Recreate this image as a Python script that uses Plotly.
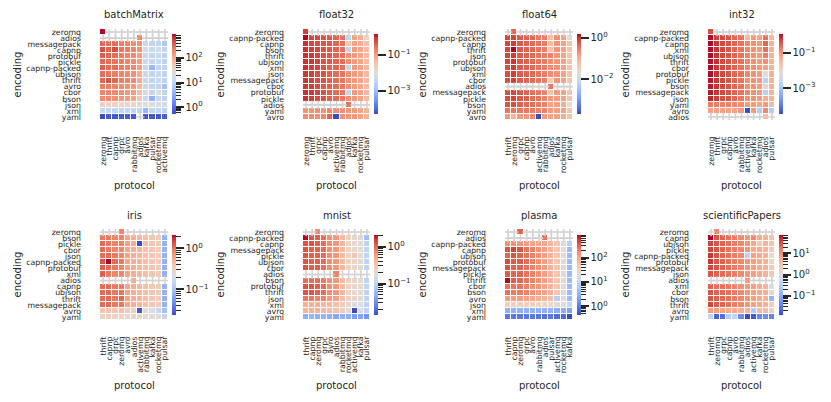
import math
import plotly.graph_objects as go

N = None  # no measurement for this encoding / protocol pair

# ---- batchMatrix ----
BATCH_ENC = ['zeromq', 'adios', 'messagepack', 'capnp', 'protobuf', 'pickle', 'capnp-packed',
             'ubjson', 'thrift', 'avro', 'cbor', 'bson', 'json', 'xml', 'yaml']
BATCH_PROTO = ['zeromq', 'thrift', 'capnp', 'grpc', 'avro', 'rabbitmq', 'adios', 'kafka',
               'pulsar', 'rocketmq', 'activemq']
BATCH_LOG = [
    [2.95, N, N, N, N, N, N, N, N, N, N],
    [N, N, N, N, N, N, 2.3, N, N, N, N],
    [2.5, 2.45, 2.45, 2.35, 2.3, 2.25, 2.2, 1.1, 1.0, 1.0, 0.8],
    [2.65, 2.5, 2.65, 2.4, 2.35, 2.3, 2.2, 1.2, 1.1, 1.15, 1.0],
    [2.55, 2.5, 2.45, 2.35, 2.3, 2.25, 2.1, 1.1, 1.0, 1.1, 0.95],
    [2.5, 2.45, 2.4, 2.35, 2.3, 2.25, 2.1, 1.1, 1.05, 1.1, 1.0],
    [2.55, 2.45, 2.45, 2.35, 2.3, 2.25, 2.1, 1.1, 0.6, 1.0, 1.0],
    [2.45, 2.4, 2.35, 2.3, 2.25, 2.2, 2.0, 1.1, 1.0, 1.1, 1.0],
    [2.5, 2.6, 2.5, 2.35, 2.3, 2.25, 2.0, 1.1, 1.0, 1.1, 0.95],
    [2.35, 2.35, 2.3, 2.25, 2.2, 2.15, 1.9, 1.1, 1.0, 1.0, 0.7],
    [2.3, 2.3, 2.25, 2.2, 2.15, 2.1, 1.8, 1.2, 1.05, 1.3, 1.0],
    [2.25, 2.25, 2.2, 2.15, 2.1, 2.05, 1.7, 1.1, 0.55, 1.1, 1.0],
    [1.55, 1.55, 1.55, 1.5, 1.5, 1.5, 1.45, 1.3, 1.3, 1.3, 1.2],
    [1.05, 1.05, 1.0, 1.0, 1.0, 1.0, 1.0, 0.6, 1.0, 1.0, 0.95],
    [-0.3, -0.2, -0.2, -0.2, -0.15, -0.2, N, -0.2, -0.2, -0.2, -0.15],
]

# ---- float32 ----
F32_ENC = ['zeromq', 'capnp-packed', 'capnp', 'bson', 'thrift', 'ubjson', 'xml', 'json',
           'messagepack', 'cbor', 'protobuf', 'pickle', 'adios', 'yaml', 'avro']
F32_PROTO = ['zeromq', 'thrift', 'grpc', 'capnp', 'avro', 'activemq', 'rabbitmq', 'adios',
             'kafka', 'rocketmq', 'pulsar']
F32_LOG = [
    [-0.2, N, N, N, N, N, N, N, N, N, N],
    [0.1, -0.25, -0.25, -0.35, -0.4, -0.5, -0.6, -2.5, -1.1, -1.2, -1.9],
    [-0.1, -0.25, -0.3, -0.35, -0.4, -0.5, -0.6, -1.6, -1.1, -1.2, -1.5],
    [-0.1, -0.2, -0.25, -0.35, -0.4, -0.5, -0.6, -2.5, -1.0, -1.1, -1.4],
    [-0.1, -0.15, -0.25, -0.35, -0.4, -0.5, -0.6, -0.9, -1.0, -1.1, -1.4],
    [-0.1, -0.15, -0.25, -0.35, -0.4, -0.5, -0.6, -0.9, -1.0, -1.1, -1.4],
    [-0.1, -0.2, -0.25, -0.35, -0.45, -0.5, -0.6, -2.5, -1.0, -1.1, -1.4],
    [-0.15, -0.2, -0.3, -0.35, -0.45, -0.55, -0.65, -0.9, -1.0, -1.1, -1.4],
    [-0.15, -0.2, -0.3, -0.35, -0.45, -0.55, -0.65, -0.9, -1.0, -1.1, -1.4],
    [-0.15, -0.2, -0.3, -0.4, -0.45, -0.55, -0.65, -0.9, -1.0, -1.1, -1.4],
    [-0.1, -0.15, -0.25, -0.35, -0.45, -0.55, -0.65, -2.5, -1.0, -1.1, -1.4],
    [-0.1, -0.2, -0.3, -0.35, -0.45, -0.55, -0.65, -0.9, -1.0, -1.1, -1.4],
    [N, N, N, N, N, N, N, -0.6, N, N, N],
    [-0.9, -0.9, -0.9, -0.9, -0.8, -0.9, -0.9, -1.0, -1.0, -1.1, -1.3],
    [-0.9, -0.9, -0.9, -0.8, -0.5, -4.3, -0.9, -1.0, -1.0, -1.1, -1.3],
]

# ---- float64 ----
F64_ENC = ['zeromq', 'capnp-packed', 'capnp', 'thrift', 'json', 'protobuf', 'ubjson', 'xml',
           'cbor', 'adios', 'messagepack', 'pickle', 'bson', 'yaml', 'avro']
F64_PROTO = ['thrift', 'zeromq', 'grpc', 'capnp', 'avro', 'activemq', 'rabbitmq', 'adios',
             'kafka', 'rocketmq', 'pulsar']
F64_LOG = [
    [N, -0.4, N, N, N, N, N, N, N, N, N],
    [-0.15, -0.15, -0.3, -0.35, -0.4, -0.5, -0.55, -1.2, -0.7, -0.9, -1.8],
    [-0.15, -0.1, -0.3, -0.35, -0.4, -0.5, -0.55, -1.2, -0.75, -0.9, -1.3],
    [-0.15, 0.15, -0.3, -0.35, -0.4, -0.5, -0.55, -1.3, -0.75, -0.9, -1.3],
    [-0.15, -0.1, -0.3, -0.35, -0.4, -0.5, -0.55, -0.6, -0.75, -0.9, -1.3],
    [-0.15, -0.05, -0.3, -0.35, -0.4, -0.5, -0.55, -0.7, -0.75, -0.9, -1.3],
    [-0.2, -0.1, -0.3, -0.35, -0.4, -0.5, -0.55, -0.7, -0.75, -0.9, -1.3],
    [-0.2, -0.1, -0.3, -0.35, -0.4, -0.5, -0.55, -0.7, -0.75, -0.9, -1.3],
    [-0.2, -0.1, -0.3, -0.35, -0.4, -0.5, -0.55, -1.4, -0.75, -0.9, -1.3],
    [N, N, N, N, N, N, N, -0.5, N, N, N],
    [-0.2, -0.15, -0.3, -0.35, -0.45, -0.5, -0.6, -1.3, -0.8, -0.9, -1.3],
    [-0.2, -0.15, -0.3, -0.35, -0.45, -0.5, -0.6, -0.8, -0.8, -0.9, -1.3],
    [-0.25, -0.2, -0.35, -0.4, -0.45, -0.55, -0.6, -0.9, -0.85, -1.0, -1.7],
    [-0.5, -0.5, -0.5, -0.5, -0.55, -0.6, -0.6, -0.8, -0.85, -0.9, -1.3],
    [-0.8, -1.1, -0.8, -0.8, -0.7, -3.7, -0.8, -0.9, -0.9, -1.0, -1.3],
]

# ---- int32 ----
I32_ENC = ['zeromq', 'capnp-packed', 'capnp', 'xml', 'ubjson', 'thrift', 'cbor', 'protobuf',
           'pickle', 'bson', 'messagepack', 'json', 'yaml', 'avro', 'adios']
I32_PROTO = ['zeromq', 'thrift', 'grpc', 'capnp', 'avro', 'rabbitmq', 'activemq', 'kafka',
             'rocketmq', 'adios', 'pulsar']
I32_LOG = [
    [-0.4, N, N, N, N, N, N, N, N, N, N],
    [0.0, -0.3, -0.35, -0.45, -0.6, -0.7, -1.5, -1.1, -1.2, -0.7, -1.5],
    [0.03, -0.2, -0.35, -0.45, -0.6, -0.7, -0.9, -1.0, -1.1, -0.6, -1.4],
    [0.0, -0.2, -0.35, -0.45, -0.6, -0.7, -0.9, -1.0, -1.1, -0.7, -1.4],
    [0.0, -0.2, -0.35, -0.45, -0.6, -0.7, -0.9, -1.0, -1.1, -0.8, -1.4],
    [0.0, -0.15, -0.35, -0.45, -0.6, -0.7, -0.9, -1.0, -1.1, -1.0, -1.4],
    [0.0, -0.2, -0.35, -0.45, -0.6, -0.7, -0.9, -1.0, -1.1, -1.2, -1.4],
    [0.0, -0.2, -0.35, -0.45, -0.6, -0.7, -0.9, -1.0, -1.1, -2.2, -1.4],
    [-0.05, -0.2, -0.35, -0.45, -0.6, -0.7, -1.0, -1.0, -1.1, -2.8, -1.4],
    [-0.05, -0.2, -0.35, -0.45, -0.6, -0.7, -1.0, -1.0, -1.1, -2.0, -1.4],
    [-0.05, -0.2, -0.35, -0.45, -0.6, -0.7, -0.9, -1.0, -1.1, -2.8, -1.4],
    [-0.1, -0.25, -0.4, -0.45, -0.6, -0.75, -1.0, -1.0, -1.1, -1.3, -1.4],
    [-0.8, -0.8, -0.85, -0.85, -0.9, -0.95, -1.1, -1.1, -1.2, -1.1, -1.5],
    [-1.2, -1.2, -1.2, -1.2, -1.2, -1.1, -4.5, -1.1, -2.9, -0.9, -2.9],
    [N, N, N, N, N, N, N, N, N, -1.6, N],
]

# ---- iris ----
IRIS_ENC = ['zeromq', 'bson', 'pickle', 'cbor', 'json', 'capnp-packed', 'protobuf', 'xml',
            'adios', 'capnp', 'ubjson', 'thrift', 'messagepack', 'avro', 'yaml']
IRIS_PROTO = ['thrift', 'capnp', 'grpc', 'zeromq', 'avro', 'adios', 'activemq', 'rabbitmq',
              'kafka', 'rocketmq', 'pulsar']
IRIS_LOG = [
    [N, N, N, -0.05, N, N, N, N, N, N, N],
    [0.0, 0.0, -0.05, -0.05, -0.2, -0.25, -0.3, -0.35, -0.4, -0.45, -1.1],
    [0.05, 0.0, -0.05, -0.05, -0.2, -0.25, -1.61, -0.35, -0.4, -0.45, -1.1],
    [0.05, 0.0, -0.05, -0.05, -0.2, -0.25, -0.3, -0.35, -0.4, -0.45, -1.1],
    [0.05, 0.05, 0.0, -0.05, -0.2, -0.25, -0.3, -0.35, -0.4, -0.45, -1.1],
    [0.15, 0.34, 0.05, 0.0, -0.2, -0.25, -0.3, -0.35, -0.4, -0.45, -1.1],
    [0.1, 0.05, 0.0, -0.05, -0.2, -0.25, -0.3, -0.35, -0.4, -0.45, -1.1],
    [0.1, 0.0, -0.05, -0.05, -0.2, -0.25, -0.3, -0.35, -0.4, -0.45, -1.1],
    [N, N, N, N, N, -0.25, N, N, N, N, N],
    [0.05, 0.05, 0.0, 0.0, -0.2, -0.25, -0.3, -0.35, -0.4, -0.45, -1.1],
    [0.05, 0.05, 0.0, 0.0, -0.2, -0.25, -0.3, -0.35, -0.4, -0.45, -1.1],
    [0.05, 0.05, 0.0, 0.05, -0.2, -0.25, -0.3, -0.35, -0.4, -0.45, -1.1],
    [0.05, 0.05, 0.0, 0.0, -0.2, -0.25, -0.3, -0.35, -0.4, -0.45, -1.1],
    [-0.4, -0.4, -0.4, -0.35, -0.45, -0.5, -1.55, -0.6, -0.6, -0.8, -1.0],
    [-0.5, -0.5, -0.5, -0.5, -0.55, -0.55, -0.55, -0.6, -0.6, -0.6, -0.8],
]

# ---- mnist ----
MNIST_ENC = ['zeromq', 'capnp-packed', 'capnp', 'messagepack', 'pickle', 'ubjson', 'cbor',
             'adios', 'bson', 'protobuf', 'thrift', 'json', 'xml', 'avro', 'yaml']
MNIST_PROTO = ['thrift', 'capnp', 'zeromq', 'grpc', 'avro', 'adios', 'rabbitmq', 'rocketmq',
               'activemq', 'kafka', 'pulsar']
MNIST_LOG = [
    [N, N, -0.15, N, N, N, N, N, N, N, N],
    [0.33, 0.1, 0.05, 0.0, -0.15, -0.2, -0.4, -0.6, -0.65, -0.7, -1.2],
    [0.1, 0.1, 0.05, 0.0, -0.15, -0.2, -0.4, -0.6, -0.65, -0.7, -1.0],
    [0.1, 0.05, 0.05, 0.0, -0.15, -0.2, -0.4, -0.6, -0.65, -0.7, -1.0],
    [0.1, 0.05, 0.05, 0.0, -0.15, -0.2, -0.4, -0.6, -0.5, -0.7, -1.0],
    [0.1, 0.05, 0.05, 0.0, -0.15, -0.2, -0.4, -0.6, -0.65, -0.7, -1.0],
    [0.1, 0.05, 0.05, 0.0, -0.15, -0.2, -0.4, -0.6, -0.65, -0.7, -1.0],
    [N, N, N, N, N, -0.1, N, N, N, N, N],
    [0.0, 0.0, 0.0, -0.05, -0.15, -0.2, -0.4, -0.6, -0.65, -0.7, -1.0],
    [0.1, 0.1, 0.05, 0.0, -0.15, -0.2, -0.4, -0.6, -0.65, -0.7, -1.0],
    [0.1, 0.1, 0.05, 0.0, -0.15, -0.2, -0.4, -0.6, -0.65, -0.7, -1.0],
    [-0.05, -0.05, -0.1, -0.1, -0.2, -0.25, -0.45, -0.6, -0.65, -0.7, -1.0],
    [-0.35, -0.35, -0.35, -0.4, -0.4, -0.45, -0.55, -0.7, -0.75, -0.8, -1.0],
    [-0.35, -0.35, -0.35, -0.4, -0.4, -0.45, -0.55, -0.7, -1.84, -0.8, -1.0],
    [-1.3, -1.25, -1.3, -1.25, -1.3, -1.35, -1.3, -1.3, -1.4, -1.35, -1.45],
]

# ---- plasma ----
PLASMA_ENC = ['zeromq', 'adios', 'capnp-packed', 'capnp', 'ubjson', 'protobuf', 'messagepack',
              'pickle', 'thrift', 'cbor', 'bson', 'avro', 'json', 'xml', 'yaml']
PLASMA_PROTO = ['thrift', 'capnp', 'zeromq', 'grpc', 'avro', 'rabbitmq', 'adios', 'pulsar',
                'activemq', 'rocketmq', 'kafka']
PLASMA_LOG = [
    [N, N, 2.5, N, N, N, N, N, N, N, N],
    [N, N, N, N, N, N, 2.4, N, N, N, N],
    [2.2, 2.2, 2.15, 2.1, 2.05, 2.0, 2.0, 1.9, 1.7, 1.3, 0.9],
    [2.6, 2.7, 2.6, 2.4, 2.3, 2.2, 2.1, 1.9, 1.7, 1.4, 0.6],
    [2.5, 2.6, 2.5, 2.4, 2.3, 2.2, 2.1, 1.9, 1.7, 1.4, 0.6],
    [2.65, 2.55, 2.55, 2.45, 2.3, 2.2, 2.1, 1.9, 1.7, 1.4, 0.6],
    [2.6, 2.5, 2.5, 2.4, 2.3, 2.2, 2.1, 1.9, 1.7, 1.4, 0.6],
    [2.55, 2.5, 2.5, 2.4, 2.3, 2.2, 2.1, 1.9, 1.7, 1.4, 0.6],
    [2.94, 2.55, 2.5, 2.4, 2.3, 2.2, 2.1, 1.9, 1.7, 1.4, 0.6],
    [2.4, 2.4, 2.4, 2.3, 2.2, 2.15, 2.05, 1.9, 1.7, 1.4, 0.6],
    [2.4, 2.35, 2.35, 2.3, 2.2, 2.1, 2.05, 1.9, 1.7, 1.4, 0.6],
    [2.1, 2.1, 2.1, 2.05, 2.0, 1.95, 1.9, 1.8, 0.9, 1.3, 0.6],
    [1.55, 1.55, 1.55, 1.55, 1.55, 1.5, 1.5, 1.45, 1.4, 1.3, 1.0],
    [0.5, 0.5, 0.5, 0.5, 0.5, 0.5, 0.5, 0.5, 0.45, 0.45, 0.35],
    [0.0, 0.0, 0.0, 0.0, 0.0, 0.0, -0.05, 0.0, -0.1, -0.1, -0.33],
]

# ---- scientificPapers ----
SCI_ENC = ['zeromq', 'capnp', 'ubjson', 'pickle', 'capnp-packed', 'protobuf', 'messagepack',
           'json', 'adios', 'xml', 'cbor', 'bson', 'thrift', 'avro', 'yaml']
SCI_PROTO = ['thrift', 'zeromq', 'grpc', 'capnp', 'avro', 'rabbitmq', 'adios', 'activemq',
             'kafka', 'rocketmq', 'pulsar']
SCI_LOG = [
    [N, 1.1, N, N, N, N, N, N, N, N, N],
    [1.9, 1.5, 1.4, 1.3, 1.2, 1.1, 1.0, 1.1, 0.8, 0.7, 0.5],
    [1.6, 1.5, 1.4, 1.3, 1.2, 1.1, 1.0, 0.8, 0.4, 0.7, 0.5],
    [1.6, 1.5, 1.4, 1.3, 1.2, 1.1, 1.0, 0.8, 0.8, 0.7, 0.4],
    [1.7, 1.5, 1.4, 1.3, 1.2, 1.1, -0.4, 0.9, 0.8, 0.7, 0.1],
    [1.7, 1.5, 1.4, 1.3, 1.2, 1.1, 1.0, 0.9, 0.8, 0.7, 0.2],
    [1.6, 1.5, 1.4, 1.3, 1.2, 1.1, 1.0, 0.9, 0.8, 0.7, 0.4],
    [1.5, 1.4, 1.35, 1.3, 1.2, 1.1, 1.0, 0.9, 0.8, 0.7, 0.4],
    [N, N, N, N, N, N, 1.0, N, N, N, N],
    [1.4, 1.3, 1.3, 1.25, 1.15, 1.05, 0.95, 0.9, 0.8, 0.7, 0.0],
    [1.5, 1.4, 1.35, 1.3, 1.2, 1.1, 1.0, 0.9, 0.8, 0.7, 0.2],
    [1.5, 1.4, 1.35, 1.3, 1.2, 1.1, 1.0, 0.9, 0.8, 0.7, -0.9],
    [1.6, 1.45, 1.4, 1.3, 1.2, 1.1, 1.0, 0.9, 0.8, 0.7, 0.3],
    [0.9, 0.9, 0.85, 0.8, 0.8, 0.75, 0.7, -0.6, 0.6, 0.6, 0.3],
    [-0.4, -1.7, -1.6, -0.5, -0.4, -1.3, -1.9, -1.8, -1.4, -1.3, -1.4],
]

# title, encodings, protocols, log values, labelled decades, minor ticks on colorbar
PANELS = [
    ('batchMatrix', BATCH_ENC, BATCH_PROTO, BATCH_LOG, [0, 1, 2], True),
    ('float32', F32_ENC, F32_PROTO, F32_LOG, [-3, -1], False),
    ('float64', F64_ENC, F64_PROTO, F64_LOG, [-2, 0], False),
    ('int32', I32_ENC, I32_PROTO, I32_LOG, [-3, -1], False),
    ('iris', IRIS_ENC, IRIS_PROTO, IRIS_LOG, [-1, 0], True),
    ('mnist', MNIST_ENC, MNIST_PROTO, MNIST_LOG, [-1, 0], True),
    ('plasma', PLASMA_ENC, PLASMA_PROTO, PLASMA_LOG, [0, 1, 2], True),
    ('scientificPapers', SCI_ENC, SCI_PROTO, SCI_LOG, [-1, 0, 1], True),
]

# matplotlib "coolwarm"
COOLWARM_RGB = [
    (59, 76, 192), (68, 90, 204), (77, 104, 215), (87, 117, 225), (98, 130, 234),
    (108, 142, 241), (119, 154, 247), (130, 165, 251), (141, 176, 254), (152, 185, 255),
    (163, 194, 255), (174, 201, 253), (184, 208, 249), (194, 213, 244), (204, 217, 238),
    (213, 219, 230), (221, 221, 221), (229, 216, 209), (236, 211, 197), (241, 204, 185),
    (245, 196, 173), (247, 187, 160), (247, 177, 148), (247, 166, 135), (244, 154, 123),
    (241, 141, 111), (236, 127, 99), (229, 112, 88), (222, 96, 77), (213, 80, 66),
    (203, 62, 56), (192, 40, 47), (180, 4, 38),
]
COOLWARM = [[i / (len(COOLWARM_RGB) - 1), 'rgb(%d,%d,%d)' % c] for i, c in enumerate(COOLWARM_RGB)]

# the page body adds an 8px margin, so the figure is laid out in a smaller box
PAGE = 8
W, H = 831 - PAGE, 402 - PAGE
# heatmap boxes in window pixels
COL_PX = [(100, 168), (303, 370), (505, 573), (708, 775)]
ROW_PX = [(29, 120), (229, 320)]
FONT = 'DejaVu Sans'
INK = '#262626'


def fx(px):
    return (px - PAGE) / W


def fy(px):
    return 1 - (px - PAGE) / H


def sup(d):
    return '10<sup>%s</sup>' % (str(d) if d >= 0 else '\u2212' + str(-d))


fig = go.Figure()
annotations = []
for i, (title, enc, proto, z, decades, minor) in enumerate(PANELS):
    r, c = divmod(i, 4)
    x0, x1 = COL_PX[c]
    y0, y1 = ROW_PX[r]
    xa = 'x' if i == 0 else 'x%d' % (i + 1)
    ya = 'y' if i == 0 else 'y%d' % (i + 1)

    flat = [v for row in z for v in row if v is not None]
    zmin, zmax = min(flat), max(flat)

    cb = dict(x=fx(x1 + 4), xanchor='left', y=fy((y0 + y1) / 2), yanchor='middle',
              len=80, lenmode='pixels', thickness=4, thicknessmode='pixels',
              outlinewidth=0, xpad=0, ypad=0, ticks='outside', tickcolor=INK,
              tickfont=dict(family=FONT, size=10, color=INK))

    if minor:
        mvals = []
        for d in range(math.floor(zmin) - 1, math.ceil(zmax) + 1):
            for m in range(2, 10):
                v = d + math.log10(m)
                if zmin <= v <= zmax:
                    mvals.append(v)
        fig.add_trace(go.Heatmap(z=z, x=proto, y=enc, xaxis=xa, yaxis=ya, zmin=zmin, zmax=zmax,
                                 colorscale=COOLWARM, xgap=1, ygap=1, hoverinfo='skip',
                                 colorbar=dict(cb, tickvals=mvals, ticktext=[''] * len(mvals),
                                               ticklen=5, tickwidth=1.2)))

    fig.add_trace(go.Heatmap(z=z, x=proto, y=enc, xaxis=xa, yaxis=ya, zmin=zmin, zmax=zmax,
                             colorscale=COOLWARM, xgap=1, ygap=1,
                             colorbar=dict(cb, tickvals=decades, ticktext=[sup(d) for d in decades],
                                           ticklen=8, tickwidth=2)))

    # cells without a measurement
    mx, my = [], []
    for e, row in zip(enc, z):
        for p, v in zip(proto, row):
            if v is None:
                mx.append(p)
                my.append(e)
    fig.add_trace(go.Scatter(x=mx, y=my, xaxis=xa, yaxis=ya, mode='markers', showlegend=False,
                             hoverinfo='skip',
                             marker=dict(symbol='cross-thin', size=6,
                                         line=dict(color='#d2d2d2', width=1.6))))

    tick_font = dict(family=FONT, size=7.8, color=INK)
    fig.layout['xaxis' if i == 0 else 'xaxis%d' % (i + 1)] = dict(
        domain=[fx(x0), fx(x1)], anchor=ya, type='category', categoryorder='array',
        categoryarray=proto, tickmode='array', tickvals=proto, ticktext=proto,
        tickangle=-90, tickfont=tick_font, ticklabelstandoff=14, automargin=False,
        showgrid=False, zeroline=False, showline=False, ticks='',
        range=[-0.5, len(proto) - 0.5])
    fig.layout['yaxis' if i == 0 else 'yaxis%d' % (i + 1)] = dict(
        domain=[fy(y1), fy(y0)], anchor=xa, type='category', categoryorder='array',
        categoryarray=enc, tickmode='array', tickvals=enc, ticktext=enc,
        tickfont=tick_font, ticklabelstandoff=18, automargin=False,
        showgrid=False, zeroline=False, showline=False, ticks='',
        range=[len(enc) - 0.5, -0.5])

    common = dict(xref='paper', yref='paper', showarrow=False, xanchor='center',
                  yanchor='middle', font=dict(family=FONT, size=10, color=INK))
    annotations.append(dict(common, text=title, x=fx((x0 + x1) / 2), y=fy(y0 - 14)))
    annotations.append(dict(common, text='encoding', x=fx(x0 - 83), y=fy((y0 + y1) / 2),
                            textangle=-90))
    annotations.append(dict(common, text='protocol', x=fx((x0 + x1) / 2), y=fy(y1 + 65)))

fig.update_layout(width=W, height=H, margin=dict(l=0, r=0, t=0, b=0, autoexpand=False),
                  template='none',
                  paper_bgcolor='white', plot_bgcolor='white', showlegend=False,
                  annotations=annotations, font=dict(family=FONT, color=INK))

fig.write_html("out.html")
